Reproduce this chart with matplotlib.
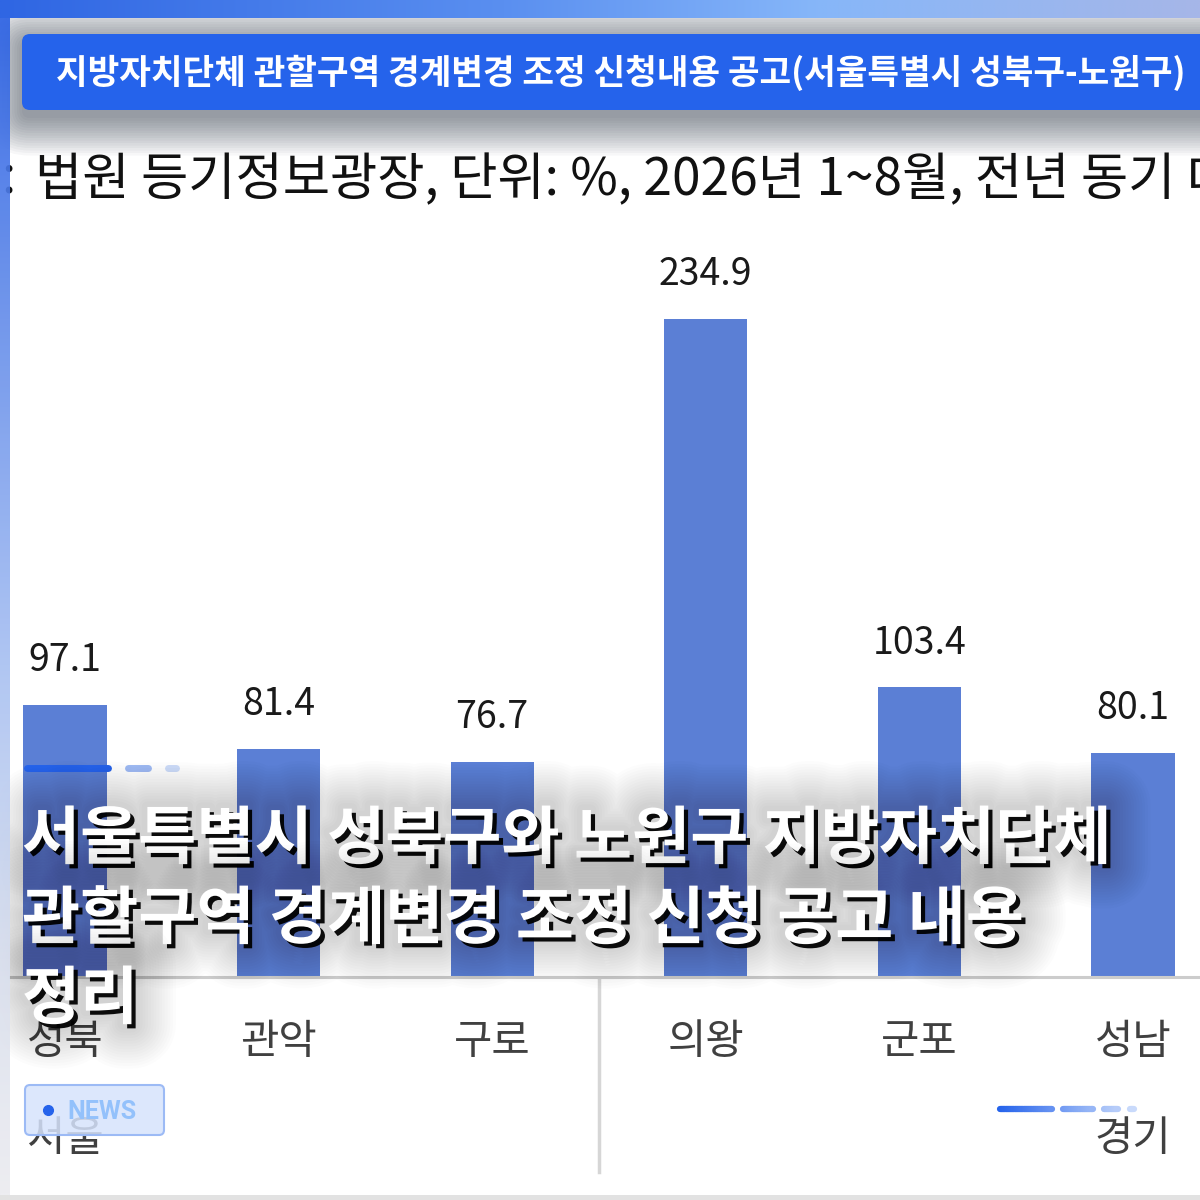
import matplotlib
matplotlib.use("Agg")
import matplotlib.pyplot as plt
import matplotlib.patheffects as pe
from matplotlib.patches import FancyBboxPatch, Rectangle
from matplotlib.collections import LineCollection
import numpy as np

plt.rcParams['font.family'] = ['Noto Sans CJK KR', 'DejaVu Sans']

# chart data
categories = ["성북", "관악", "구로", "의왕", "군포", "성남"]
values = [97.1, 81.4, 76.7, 234.9, 103.4, 80.1]
groups = ["서울", "경기"]
group_members = [0, 5]  # category under which each group name sits

banner_title = "지방자치단체 관할구역 경계변경 조정 신청내용 공고(서울특별시 성북구-노원구)"
subtitle = "법원 등기정보광장, 단위: %, 2026년 1~8월, 전년 동기 대비"
headline = ["서울특별시 성북구와 노원구 지방자치단체",
            "관할구역 경계변경 조정 신청 공고 내용",
            "정리"]
badge = "NEWS"

W = H = 1200
BAR_COLOR = "#5b7fd5"
BLUE = "#2563eb"


def hex2rgb(h):
    return np.array([int(h[i:i + 2], 16) / 255 for i in (1, 3, 5)])


def ramp(stops, n):
    pos = [s[0] for s in stops]
    cols = np.array([hex2rgb(s[1]) for s in stops])
    t = np.linspace(0, 1, n)
    return np.stack([np.interp(t, pos, cols[:, k]) for k in range(3)], axis=-1)


fig = plt.figure(figsize=(12, 12), dpi=100)

# background layer (pixel coordinates, y down)
bg = fig.add_axes([0, 0, 1, 1], zorder=0)
bg.set_xlim(0, W)
bg.set_ylim(H, 0)
bg.axis("off")

# subtitle runs off the right edge, as in the source screenshot
bg.text(35, 180, subtitle, fontsize=37, color="#111111", ha="left", va="center")
bg.text(1, 178, ":", fontsize=37, color="#111111", ha="left", va="center")

# banner shadow
for k in range(16):
    pad = 2.5 * k
    bg.add_patch(FancyBboxPatch((22 - pad, 42 - pad), 1250 + 2 * pad, 76 + 2 * pad,
                                boxstyle="round,pad=0,rounding_size=%d" % (8 + pad),
                                facecolor="#1e293b", edgecolor="none", alpha=0.035))

# bar chart layer
x = np.arange(len(categories))
ax = fig.add_axes([10 / W, (H - 977) / H, 1190 / W, (977 - 230) / H], zorder=1)
ax.set_facecolor("none")
ax.bar(x, values, width=0.39, color=BAR_COLOR)
ax.set_xlim(-0.2575, 5.314)
ax.set_ylim(0, 747 / 2.80)
for s in ax.spines.values():
    s.set_visible(False)
ax.set_yticks([])
ax.set_xticks([])
ax.axhline(0, color="#cccccc", lw=2.2, clip_on=False)
for i, v in enumerate(values):
    ax.annotate(f"{v}", (i, v), xytext=(0, 32), textcoords="offset points",
                ha="center", va="center", fontsize=27, color="#1a1a1a")
    ax.annotate(categories[i], (i, 0), xytext=(0, -47), textcoords="offset points",
                ha="center", va="center", fontsize=30, color="#404040", annotation_clip=False)
for g, i in zip(groups, group_members):
    ax.annotate(g, (i, 0), xytext=(0, -117), textcoords="offset points",
                ha="center", va="center", fontsize=30, color="#404040", annotation_clip=False)
ax.plot([2.5, 2.5], [-1.0, -195 / 2.80], color="#d6d6d6", lw=2.5, clip_on=False)

# overlay layer
ov = fig.add_axes([0, 0, 1, 1], zorder=2)
ov.set_facecolor("none")
ov.axis("off")

# banner
ov.add_patch(FancyBboxPatch((22, 34), 1250, 76, boxstyle="round,pad=0,rounding_size=8",
                            facecolor=BLUE, edgecolor="none"))
ov.text(56, 73, banner_title, fontsize=24.8, color="white", fontweight="bold",
        ha="left", va="center")

# headline with soft glow and hard shadow
glow = [pe.Stroke(linewidth=lw, foreground="black", alpha=0.011, joinstyle="round")
        for lw in range(64, 4, -4)]
effects = glow + [pe.withSimplePatchShadow(offset=(3, -3), shadow_rgbFace="black", alpha=0.95)]
for i, line in enumerate(headline):
    ov.text(22, 840 + 80 * i, line, fontsize=45.5, color="white", fontweight="heavy",
            ha="left", va="center", path_effects=effects)

# decorative dashes
ov.plot([27, 108], [768, 768], color=BLUE, lw=5, solid_capstyle="round")
ov.plot([128, 148], [768, 768], color="#9dbaf3", lw=5, solid_capstyle="round")
ov.plot([168, 176], [768, 768], color="#cddcf9", lw=5, solid_capstyle="round")

segs = [(1000, 1052), (1063, 1093), (1104, 1118), (1130, 1134)]
cols = ramp([(0, "#2563eb"), (1, "#c9dafb")], 60)
pts, cc = [], []
xs = np.linspace(1000, 1134, 61)
for j in range(60):
    a, b = xs[j], xs[j + 1]
    for s0, s1 in segs:
        lo, hi = max(a, s0), min(b, s1)
        if hi > lo:
            pts.append([(lo, 1109), (hi, 1109)])
            cc.append(cols[j])
ov.add_collection(LineCollection(pts, colors=cc, linewidths=4.5, capstyle="round"))

# NEWS badge
ov.add_patch(FancyBboxPatch((25, 1085), 139, 50, boxstyle="round,pad=0,rounding_size=5",
                            facecolor=(0.84, 0.89, 0.99, 0.85), edgecolor="#9cbaf5", lw=1.5))
ov.plot(48, 1110, "o", color=BLUE, ms=7)
ov.text(67, 1112, badge, fontsize=18, color="#93c1fb", fontweight="bold",
        ha="left", va="center", family=["Roboto", "DejaVu Sans"])

# frame strips
top = ramp([(0, "#2f66e3"), (0.42, "#5a8ff0"), (0.68, "#86b6f9"), (1, "#a6b6e8")], 300)
ov.imshow(top[None, :, :], extent=(0, W, 18, 0), aspect="auto", interpolation="bilinear", zorder=5)
left = ramp([(0, "#2c62e4"), (0.55, "#a9c1f2"), (0.8, "#d9dfee"), (1, "#ececf0")], 300)
ov.imshow(left[:, None, :], extent=(0, 10, 1195, 18), aspect="auto", interpolation="bilinear",
          alpha=0.92, zorder=5)
ov.add_patch(Rectangle((0, 1195), W, 5, facecolor="#e2e2e2", edgecolor="none", zorder=5))

ov.set_xlim(0, W)
ov.set_ylim(H, 0)

fig.savefig("out.png", dpi=100)
